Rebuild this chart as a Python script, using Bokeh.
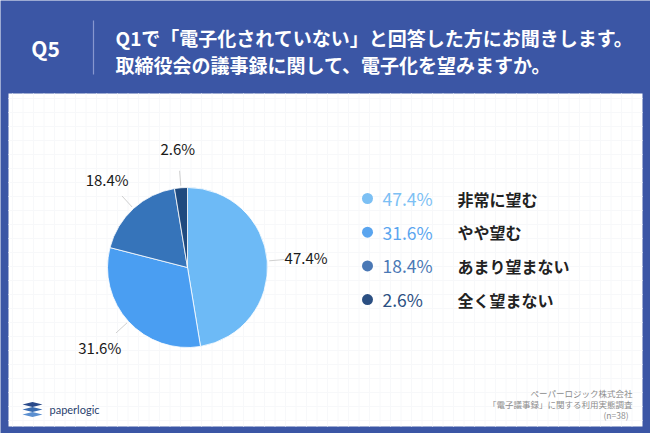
import numpy as np
from bokeh.plotting import figure
from bokeh.models import Range1d
from bokeh.core.properties import value
from bokeh.embed import file_html
from bokeh.resources import INLINE

# ---- data ----
categories = ["非常に望む", "やや望む", "あまり望まない", "全く望まない"]
shares = [47.4, 31.6, 18.4, 2.6]
pct_labels = ["47.4%", "31.6%", "18.4%", "2.6%"]
pie_colors = ["#6dbaf6", "#4a9ef2", "#3674ba", "#1f4a7f"]
legend_colors = ["#7cc0f4", "#5aa5ef", "#4a78b5", "#2b4f82"]
q_label = "Q5"
title_lines = ["Q1で「電子化されていない」と回答した方にお聞きします。",
               "取締役会の議事録に関して、電子化を望みますか。"]
footer_lines = ["ペーパーロジック株式会社", "「電子議事録」に関する利用実態調査", "(n=38)"]

W, H = 650, 433
FONT = "Noto Sans CJK JP"
BLUE = "#3b56a5"

def Y(y):
    return H - y

p = figure(width=W, height=H, output_backend="svg", toolbar_location=None,
           x_range=Range1d(0, W), y_range=Range1d(0, H),
           x_axis_location=None, y_axis_location=None,
           min_border=0, min_border_left=0, min_border_right=0,
           min_border_top=0, min_border_bottom=0,
           background_fill_color=BLUE, border_fill_color=BLUE,
           outline_line_color=None)
p.grid.visible = False

# white panel
p.quad(left=8, right=642, top=Y(93), bottom=Y(426), fill_color="white", line_color=None)

# faint grid in panel
gx = np.arange(12, 642, 10.5)
gy = np.arange(98, 426, 14)
p.multi_line(xs=[[x, x] for x in gx], ys=[[Y(93), Y(426)] for _ in gx],
             line_color="#f7f8fa", line_width=1)
p.multi_line(xs=[[8, 642] for _ in gy], ys=[[Y(y), Y(y)] for y in gy],
             line_color="#f7f8fa", line_width=1)

# header
p.text(x=[45], y=[Y(47)], text=[q_label], text_color="white", text_font=value(FONT),
       text_font_size="21px", text_font_style="bold", text_align="center",
       text_baseline="middle")
p.line(x=[93, 93], y=[Y(20), Y(74)], line_color="#8797cf", line_width=1.2)
p.text(x=[115, 115], y=[Y(37), Y(64)], text=title_lines, text_color="white",
       text_font=value(FONT), text_font_size="19px", text_font_style="bold",
       text_align="left", text_baseline="middle")

# pie
cx, cy, r = 187, Y(267), 80
fr = np.array(shares) / sum(shares)
cum = np.concatenate([[0], np.cumsum(fr)])
start = np.pi / 2 - cum[:-1] * 2 * np.pi
end = np.pi / 2 - cum[1:] * 2 * np.pi
p.wedge(x=cx, y=cy, radius=r, start_angle=start, end_angle=end, direction="clock",
        fill_color=pie_colors, line_color="white", line_width=0.8)

mid = (start + end) / 2
r_in, r_out, r_txt = r + 2, r + 17, r + 39
p.multi_line(xs=[[cx + r_in * np.cos(a), cx + r_out * np.cos(a)] for a in mid],
             ys=[[cy + r_in * np.sin(a), cy + r_out * np.sin(a)] for a in mid],
             line_color="#d0d0d0", line_width=1)
p.text(x=cx + r_txt * np.cos(mid), y=cy + r_txt * np.sin(mid), text=pct_labels,
       text_color="#1a1a1a", text_font=value(FONT), text_font_size="15px",
       text_align="center", text_baseline="middle")

# legend
ly = [Y(198 + 33.7 * i) for i in range(len(categories))]
p.scatter(x=[367] * len(ly), y=ly, size=11, marker="circle",
          fill_color=legend_colors, line_color=None)
p.text(x=[382] * len(ly), y=ly, text=pct_labels, text_color=legend_colors,
       text_font=value(FONT), text_font_size="17.5px", text_align="left",
       text_baseline="middle")
p.text(x=[457] * len(ly), y=ly, text=categories, text_color="#222222",
       text_font=value(FONT), text_font_size="16px", text_font_style="bold",
       text_align="left", text_baseline="middle")

# footer
p.text(x=[632, 632, 628], y=[Y(392), Y(403), Y(414)], text=footer_lines,
       text_color="#8c8c8c", text_font=value(FONT), text_font_size="8.5px",
       text_align="right", text_baseline="middle")

# logo
p.patches(xs=[[22, 32, 42, 32], [22, 32, 42, 32], [22, 32, 42, 32]],
          ys=[[Y(404), Y(401.5), Y(404), Y(406.5)],
              [Y(409), Y(406.5), Y(409), Y(411.5)],
              [Y(414), Y(411.5), Y(414), Y(416.5)]],
          fill_color=["#2a4a8a", "#3a6cb0", "#5b8fd0"], line_color=None)
p.text(x=[49], y=[Y(409)], text=["paperlogic"], text_color="#2a3f6e",
       text_font=value("Lato"), text_font_size="11px", text_align="left",
       text_baseline="middle")

open("out.html", "w").write(file_html(p, INLINE))
